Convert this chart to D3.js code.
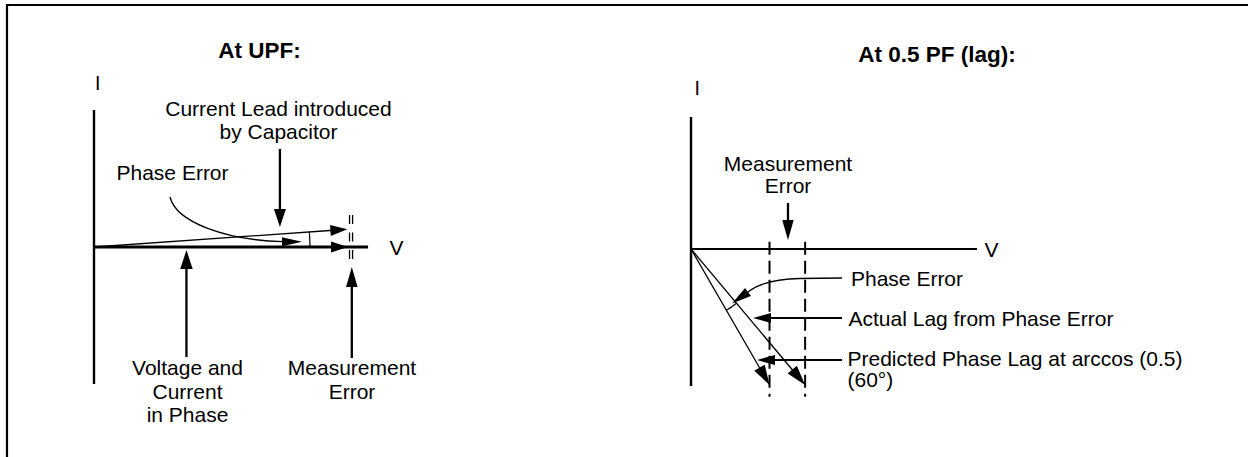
<!DOCTYPE html>
<html><head><meta charset="utf-8">
<script src="https://cdn.jsdelivr.net/npm/d3@7"></script>
<style>
html,body{margin:0;padding:0;background:#fff;}
svg{display:block;}
text{font-family:"Liberation Sans",Arial,Helvetica,sans-serif;fill:#000;}
</style>
</head><body>
<svg id="chart" width="1248" height="457"></svg>
<script>
// ---------- data ----------
const panelTitles = ["At UPF:", "At 0.5 PF (lag):"];
const axisNames = ["I", "V"];
// UPF panel: phasor angles in degrees (voltage/current in phase, current lead from capacitor)
const upfAnglesDeg = [0, 4];
const upfMagnitudes = [1, 1];
// 0.5 PF panel: predicted lag (arccos 0.5 = 60 deg) and actual lag after phase error
const pfLagDeg = [60, 50];
const pfDepth = [1, 1];
// annotation texts
const upfLeadText = ["Current Lead introduced", "by Capacitor"];
const upfPhaseErrText = ["Phase Error"];
const upfInPhaseText = ["Voltage and", "Current", "in Phase"];
const upfMeasText = ["Measurement", "Error"];
const pfMeasText = ["Measurement", "Error"];
const pfPhaseErrText = ["Phase Error"];
const pfActualText = ["Actual Lag from Phase Error"];
const pfPredText = ["Predicted Phase Lag at arccos (0.5)", "(60\u00B0)"];

// ---------- setup ----------
const svg = d3.select("#chart");
const rad = d => d * Math.PI / 180;
const FS = 21;

// frame (open on right/bottom)
svg.append("path").attr("d", "M7,457V5H1248").attr("fill", "none")
  .attr("stroke", "#000").attr("stroke-width", 2.2);

function arrow(g, x1, y1, x2, y2, o = {}) {
  const w = o.w || 2.3, hl = o.hl || 18, hw = o.hw || 11;
  const dx = x2 - x1, dy = y2 - y1, L = Math.hypot(dx, dy), ux = dx / L, uy = dy / L;
  const bx = x2 - ux * hl, by = y2 - uy * hl;
  g.append("line").attr("x1", x1).attr("y1", y1)
    .attr("x2", bx + ux * 3).attr("y2", by + uy * 3)
    .attr("stroke", "#000").attr("stroke-width", w);
  head(g, bx, by, x2, y2, hw);
}
function head(g, bx, by, x2, y2, hw) {
  const dx = x2 - bx, dy = y2 - by, L = Math.hypot(dx, dy), ux = dx / L, uy = dy / L;
  g.append("path")
    .attr("d", `M${x2},${y2}L${bx - uy * hw / 2},${by + ux * hw / 2}L${bx + uy * hw / 2},${by - ux * hw / 2}Z`)
    .attr("fill", "#000");
}
function lines(g, arr, x, y0, dy, anchor, size, weight) {
  arr.forEach((t, i) => g.append("text").attr("x", x).attr("y", y0 + i * dy)
    .attr("text-anchor", anchor).attr("font-size", size || FS)
    .attr("font-weight", weight || "normal").text(t));
}
function seg(g, x1, y1, x2, y2, w, dash) {
  const l = g.append("line").attr("x1", x1).attr("y1", y1).attr("x2", x2).attr("y2", y2)
    .attr("stroke", "#000").attr("stroke-width", w);
  if (dash) l.attr("stroke-dasharray", dash);
  return l;
}

// ---------- left panel: UPF ----------
{
  const g = svg.append("g");
  const x = d3.scaleLinear().domain([0, 1]).range([94, 348]);
  const y = d3.scaleLinear().domain([0, 1]).range([247, -7]);

  lines(g, [panelTitles[0]], 259.5, 58, 0, "middle", 22.5, "bold");
  lines(g, [axisNames[0]], 95, 90, 0, "start", 19.5);
  lines(g, [axisNames[1]], 396.5, 255, 0, "middle", 21);

  // axes
  seg(g, x(0), y(0.539), x(0), y(-0.539), 2.4);
  seg(g, x(0), y(0), x(1.079), y(0), 3);

  // phasors
  upfAnglesDeg.forEach((a, i) => {
    const m = upfMagnitudes[i];
    const ex = x(m * Math.cos(rad(a))), ey = y(m * Math.sin(rad(a)));
    arrow(g, x(0), y(0), ex, ey, { w: i === 0 ? 0.01 : 1.3, hl: 17, hw: 11 });
  });

  // phase error angle arc
  const r = x(0.85) - x(0);
  const p = d3.path();
  p.arc(x(0), y(0), r, 0, -rad(upfAnglesDeg[1]), true);
  g.append("path").attr("d", p.toString()).attr("fill", "none").attr("stroke", "#000").attr("stroke-width", 1.2);

  // measurement error double dashed marks at phasor tips
  [1.006, 1.018].forEach(u => seg(g, x(u), y(0.126), x(u), y(-0.059), 1.3, "9,8.5"));

  // current lead arrow
  lines(g, upfLeadText, 278.5, 116, 23, "middle");
  arrow(g, x(0.732), y(0.386), x(0.732), y(0.079), { hl: 18, hw: 12 });

  // phase error curved arrow
  lines(g, upfPhaseErrText, 116.5, 180, 0, "start");
  g.append("path").attr("d", "M170,197C176,222 225,240 283,241.7")
    .attr("fill", "none").attr("stroke", "#000").attr("stroke-width", 1.3);
  head(g, 282, 241.7, 302, 241.7, 9);

  // voltage and current in phase
  arrow(g, x(0.364), y(-0.433), x(0.364), y(-0.012), { hl: 19, hw: 12.5 });
  lines(g, upfInPhaseText, 187.5, 375, 23.5, "middle");

  // measurement error
  arrow(g, x(1.015), y(-0.437), x(1.015), y(-0.079), { hl: 20, hw: 11.5 });
  lines(g, upfMeasText, 352, 375, 23.5, "middle");
}

// ---------- right panel: 0.5 PF lag ----------
{
  const g = svg.append("g");
  const x = d3.scaleLinear().domain([0, 1]).range([691, 827]);
  const y = d3.scaleLinear().domain([0, 1]).range([249, 113]);

  lines(g, [panelTitles[1]], 937, 62, 0, "middle", 22.5, "bold");
  lines(g, [axisNames[0]], 694.5, 95, 0, "start", 19.5);
  lines(g, [axisNames[1]], 991.5, 257, 0, "middle", 21);

  // axes
  seg(g, x(0), y(0.97), x(0), y(-1.007), 2.4);
  seg(g, x(0), y(0), x(2.103), y(0), 2);

  // measurement error dashed verticals at phasor ends
  pfLagDeg.forEach(a => {
    const u = 1 / Math.tan(rad(a));
    seg(g, x(u), y(0.054), x(u), y(-1.086), 2, "13,6");
  });

  // phasors
  pfLagDeg.forEach((a, i) => {
    const d = pfDepth[i];
    const ex = x(d / Math.tan(rad(a))), ey = y(-d);
    arrow(g, x(0), y(0), ex, ey, { w: 1.3, hl: 20, hw: 12 });
  });

  // phase error arc
  const r = x(0.52) - x(0);
  const p = d3.path();
  p.arc(x(0), y(0), r, rad(pfLagDeg[1]), rad(pfLagDeg[0]), false);
  g.append("path").attr("d", p.toString()).attr("fill", "none").attr("stroke", "#000").attr("stroke-width", 1.2);

  // measurement error label + arrow
  lines(g, pfMeasText, 788, 171, 22, "middle");
  arrow(g, x(0.713), y(0.338), x(0.713), y(0.066), { hl: 20, hw: 11.5 });

  // phase error curved arrow
  lines(g, pfPhaseErrText, 851, 286, 0, "start");
  g.append("path").attr("d", "M842,278L800,278.5C775,279 758,284 748,292")
    .attr("fill", "none").attr("stroke", "#000").attr("stroke-width", 1.3);
  head(g, 748, 292, 732, 303.5, 10);

  // actual lag arrow
  lines(g, pfActualText, 848.5, 325.7, 0, "start");
  arrow(g, 842, 318, 753, 318, { w: 2, hl: 18, hw: 10 });

  // predicted lag arrow
  lines(g, pfPredText, 847.5, 366, 21, "start");
  arrow(g, 842, 360, 757, 360, { w: 2, hl: 18, hw: 10 });
}
</script>
</body></html>
